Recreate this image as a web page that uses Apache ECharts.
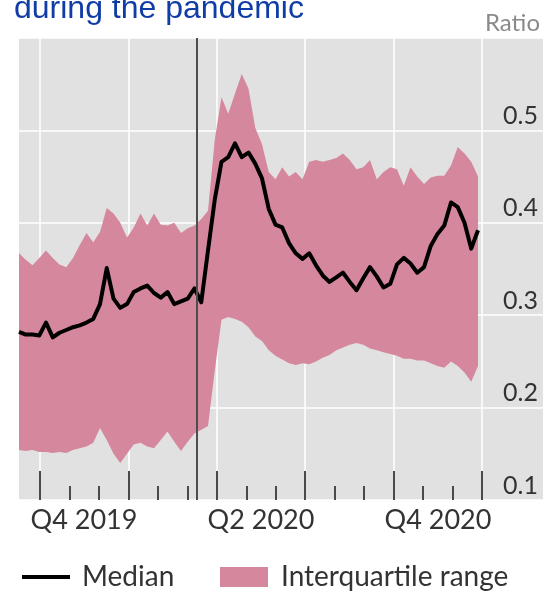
<!DOCTYPE html>
<html><head><meta charset="utf-8">
<script src="https://cdn.jsdelivr.net/npm/echarts@6/dist/echarts.min.js"></script>
<style>html,body{margin:0;padding:0;background:#fff}#c{width:543px;height:592px}</style>
</head><body><div id="c"></div>
<script>
// weekly observations, first week and count
const weekStart = '2019-09-09';
const weekCount = 69;
const median = [
0.282,0.279,0.279,0.278,0.292,0.276,0.281,0.284,0.287,0.289,
0.292,0.296,0.312,0.351,0.318,0.308,0.312,0.325,0.329,0.332,
0.324,0.319,0.325,0.312,0.315,0.318,0.329,0.314,0.370,0.425,
0.466,0.471,0.486,0.471,0.476,0.464,0.448,0.415,0.398,0.395,
0.378,0.367,0.361,0.367,0.354,0.343,0.336,0.341,0.346,0.336,
0.327,0.340,0.352,0.342,0.330,0.334,0.355,0.362,0.356,0.346,
0.352,0.375,0.388,0.397,0.422,0.417,0.400,0.372,0.392];
const upper = [
0.367,0.360,0.354,0.362,0.370,0.362,0.355,0.352,0.362,0.376,
0.389,0.379,0.390,0.416,0.410,0.400,0.384,0.395,0.410,0.397,
0.410,0.398,0.397,0.400,0.389,0.394,0.397,0.404,0.413,0.490,
0.536,0.518,0.540,0.561,0.545,0.503,0.485,0.455,0.447,0.460,
0.450,0.455,0.447,0.466,0.468,0.466,0.468,0.470,0.475,0.468,
0.458,0.460,0.468,0.447,0.455,0.460,0.458,0.440,0.460,0.450,
0.442,0.449,0.451,0.451,0.462,0.482,0.475,0.466,0.450];
const lower = [
0.154,0.153,0.154,0.152,0.152,0.151,0.152,0.151,0.154,0.156,
0.158,0.162,0.178,0.165,0.150,0.140,0.150,0.160,0.162,0.158,
0.156,0.165,0.174,0.163,0.153,0.163,0.172,0.176,0.180,0.240,
0.295,0.298,0.296,0.293,0.287,0.277,0.272,0.262,0.256,0.252,
0.248,0.246,0.248,0.247,0.250,0.254,0.257,0.262,0.265,0.268,
0.270,0.268,0.264,0.262,0.260,0.258,0.256,0.253,0.253,0.251,
0.251,0.248,0.245,0.243,0.250,0.245,0.238,0.228,0.245];
const quarterLabels = ['Q4 2019', 'Q2 2020', 'Q4 2020'];
const pandemicDate = '2020-03-11';
const titleText = 'during the pandemic';
const unitText = 'Ratio';
const seriesNames = ['Median', 'Interquartile range'];

// weekly category labels
const t0 = Date.parse(weekStart + 'T00:00:00Z');
const weeks = [];
for (let i = 0; i < weekCount; i++) weeks.push(new Date(t0 + i * 7 * 86400000).toISOString().slice(0, 10));
const bandWidth = upper.map((v, i) => +(v - lower[i]).toFixed(4));

// months since 1 July 2019 (quarter starts are multiples of 3) for the tick axis
function monthIndex(s) {
  const d = new Date(s + 'T00:00:00Z');
  const y = d.getUTCFullYear(), m = d.getUTCMonth(), day = d.getUTCDate();
  const dim = new Date(Date.UTC(y, m + 1, 0)).getUTCDate();
  return (y - 2019) * 12 + (m - 6) + (day - 1) / dim;
}
const pandemicX = monthIndex(pandemicDate);

const FONT = 'Lato';
const PINK = '#d5889d';
const chart = echarts.init(document.getElementById('c'), null, {renderer: 'canvas'});
chart.setOption({
  animation: false,
  title: [
    {text: titleText, left: 14, top: -7, padding: 0,
      textStyle: {fontFamily: 'Liberation Sans', fontSize: 32, fontWeight: 'normal', color: '#103ca6'}},
    {text: unitText, right: 3, top: 11, padding: 0,
      textStyle: {fontFamily: FONT, fontSize: 24, fontWeight: 'normal', color: '#8a8a8a'}}
  ],
  grid: [
    {left: 19, right: 0, top: 38, bottom: 92, show: true, backgroundColor: '#e1e1e1', borderWidth: 0},
    {left: 40, right: 61, top: 38, bottom: 92},
    {left: 84, right: 105, top: 38, bottom: 92},
    {left: 19, right: 65, top: 38, bottom: 92}
  ],
  xAxis: [
    {gridIndex: 0, type: 'value', min: 0, max: 1, show: false},
    {gridIndex: 1, type: 'value', min: 3, max: 18, interval: 3,
      axisLine: {show: false},
      axisLabel: {show: false},
      axisTick: {show: true, inside: true, length: 29, lineStyle: {color: '#4a4a4a', width: 2}},
      minorTick: {show: true, splitNumber: 3, length: 14, lineStyle: {color: '#4a4a4a', width: 2}},
      splitLine: {show: true, lineStyle: {color: '#ffffff', width: 1.5}}
    },
    {gridIndex: 2, type: 'value', min: 0, max: quarterLabels.length - 1, interval: 1,
      axisLine: {show: false}, axisTick: {show: false}, splitLine: {show: false},
      axisLabel: {show: true, margin: 7, fontFamily: FONT, fontSize: 27, color: '#333',
        formatter: v => quarterLabels[v] || ''}
    },
    {gridIndex: 3, type: 'category', data: weeks, boundaryGap: false, show: false}
  ],
  yAxis: [
    {gridIndex: 0, type: 'value', min: 0.1, max: 0.6, interval: 0.1, position: 'right',
      axisLine: {show: false}, axisTick: {show: false},
      axisLabel: {inside: true, margin: 5, verticalAlign: 'bottom', padding: [0, 0, 2, 0],
        fontFamily: FONT, fontSize: 25, color: '#333',
        formatter: v => (v > 0.55 ? '' : v.toFixed(1))},
      splitLine: {show: true, lineStyle: {color: '#ffffff', width: 1.5}}
    },
    {gridIndex: 1, type: 'value', min: 0.1, max: 0.6, show: false, splitLine: {show: false}},
    {gridIndex: 2, type: 'value', min: 0, max: 1, show: false},
    {gridIndex: 3, type: 'value', min: 0.1, max: 0.6, show: false, splitLine: {show: false}}
  ],
  legend: [
    {data: [{name: seriesNames[0], icon: 'rect'}], left: 17, top: 558, itemWidth: 48, itemHeight: 4,
      textStyle: {fontFamily: FONT, fontSize: 28, color: '#333', padding: [0, 0, 0, 7]}},
    {data: [{name: seriesNames[1], icon: 'rect'}], left: 215, top: 558, itemWidth: 48, itemHeight: 20,
      textStyle: {fontFamily: FONT, fontSize: 28, color: '#333', padding: [0, 0, 0, 8]}}
  ],
  series: [
    {name: 'lower', type: 'line', xAxisIndex: 3, yAxisIndex: 3, stack: 'band',
      symbol: 'none', lineStyle: {width: 0, opacity: 0}, silent: true, data: lower},
    {name: seriesNames[1], type: 'line', xAxisIndex: 3, yAxisIndex: 3, stack: 'band',
      symbol: 'none', lineStyle: {width: 0, opacity: 0}, itemStyle: {color: PINK},
      areaStyle: {color: PINK, opacity: 1}, data: bandWidth},
    {name: 'pandemic', type: 'line', xAxisIndex: 1, yAxisIndex: 1, symbol: 'none', silent: true,
      data: [[pandemicX, null]],
      markLine: {silent: true, symbol: ['none', 'none'], label: {show: false},
        lineStyle: {color: '#4d4d4d', width: 2, type: 'solid'},
        data: [{xAxis: pandemicX}]}},
    {name: seriesNames[0], type: 'line', xAxisIndex: 3, yAxisIndex: 3,
      symbol: 'none', itemStyle: {color: '#000'}, lineStyle: {color: '#000', width: 4, join: 'round'},
      data: median}
  ]
});
</script></body></html>
